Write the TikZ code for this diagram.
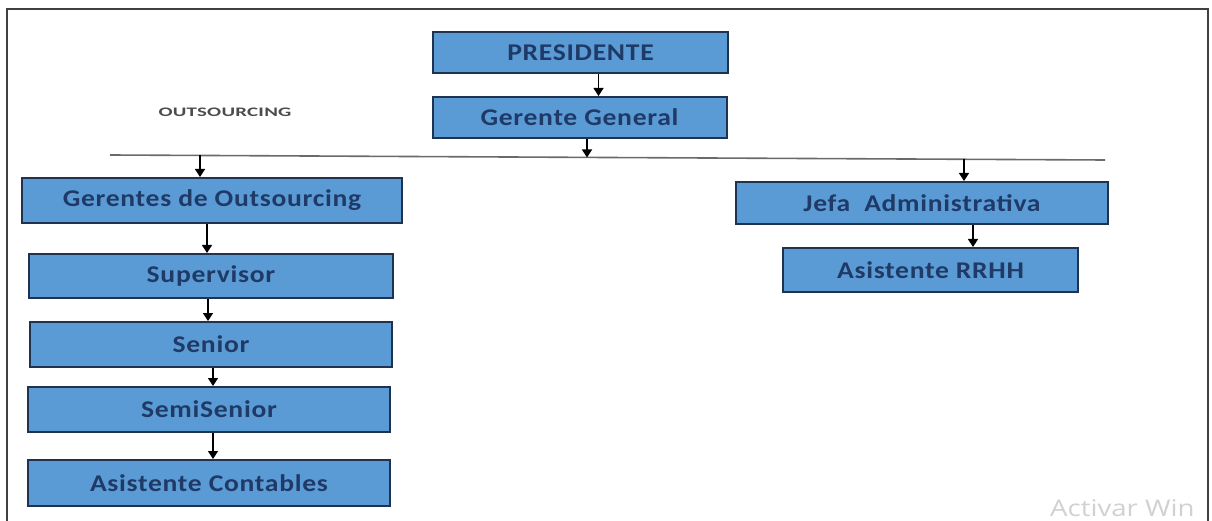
\documentclass[tikz,border=0pt]{standalone}
\usepackage{fontspec}
\setmainfont{Carlito}
\newfontfamily\boxfont[FakeStretch=1.15,LetterSpace=3]{Carlito}
\newfontfamily\outsfont[FakeStretch=1.6,LetterSpace=2]{Carlito}
\newfontfamily\wmfont[FakeStretch=1.2]{Open Sans}
\usetikzlibrary{arrows.meta}
\definecolor{boxfill}{HTML}{5B9BD5}
\definecolor{boxline}{HTML}{1F3350}
\definecolor{boxtext}{HTML}{1F3A66}
\definecolor{busgray}{HTML}{6A6A6A}
\tikzset{
  orgbox/.style={draw=boxline, line width=2pt, fill=boxfill, inner sep=0pt,
    text=boxtext, font=\boxfont\fontsize{24}{28}\selectfont\bfseries},
  arr/.style={line width=1.3pt, draw=black, -{Triangle[length=8pt,width=10pt]}},
  bus/.style={line width=1.6pt, draw=busgray},
  frame/.style={line width=2pt, draw=black!75}
}
\begin{document}
\begin{tikzpicture}[x=1pt,y=-1pt]
\useasboundingbox (0,0) rectangle (1212,521);
\fill[white] (0,0) rectangle (1212,521);
% frame
\draw[frame] (7,521) -- (7,9) -- (1208,9) -- (1208,521);
% nodes
\node[orgbox, minimum width=295pt, minimum height=41pt] (pres) at (580.5,52.5) {PRESIDENTE};
\node[orgbox, minimum width=294pt, minimum height=41pt] (gg) at (579.5,117.5) {Gerente General};
\node[text=black!70, font=\outsfont\fontsize{13}{15}\selectfont\bfseries] (outs) at (225,112) {OUTSOURCING};
\node[orgbox, minimum width=380pt, minimum height=45pt] (gout) at (212,200.5) {Gerentes de Outsourcing};
\node[orgbox, minimum width=364pt, minimum height=44pt] (sup) at (211,276) {Supervisor};
\node[orgbox, minimum width=362pt, minimum height=45pt] (sen) at (211,344.5) {Senior};
\node[orgbox, minimum width=362pt, minimum height=45pt] (semi) at (209,409.5) {SemiSenior};
\node[orgbox, minimum width=362pt, minimum height=46pt] (asc) at (209,483) {Asistente Contables};
\node[orgbox, minimum width=372pt, minimum height=42pt] (jefa) at (922,203) {Jefa\ \ Administrativa};
\node[orgbox, minimum width=295pt, minimum height=44pt] (rrhh) at (930.5,270) {Asistente RRHH};
% bus
\coordinate (busL) at (110,155);
\coordinate (busR) at (1105,160);
\coordinate (b1) at (200,155.5);
\coordinate (b2) at (587,157.5);
\coordinate (b3) at (964,159.5);
\draw[bus] (busL) -- (busR);
% connectors
\draw[arr] ([xshift=18pt]pres.south) -- ([xshift=19pt]gg.north);
\draw[arr] (gg.south -| b2) -- (b2);
\draw[arr] (b1) -- (b1 |- gout.north);
\draw[arr] (b3) -- (b3 |- jefa.north);
\draw[arr] ([xshift=-5pt]gout.south) -- ([xshift=-4pt]sup.north);
\draw[arr] ([xshift=-3pt]sup.south) -- ([xshift=-3pt]sen.north);
\draw[arr] ([xshift=2pt]sen.south) -- ([xshift=4pt]semi.north);
\draw[arr] ([xshift=4pt]semi.south) -- ([xshift=4pt]asc.north);
\draw[arr] ([xshift=51pt]jefa.south) -- ([xshift=42.5pt]rrhh.north);
% watermark
\node[anchor=base west, text=black!18, font=\wmfont\fontsize{23}{26}\selectfont, inner sep=0pt] (wm) at (1050,516) {Activar Win};
\end{tikzpicture}
\end{document}
